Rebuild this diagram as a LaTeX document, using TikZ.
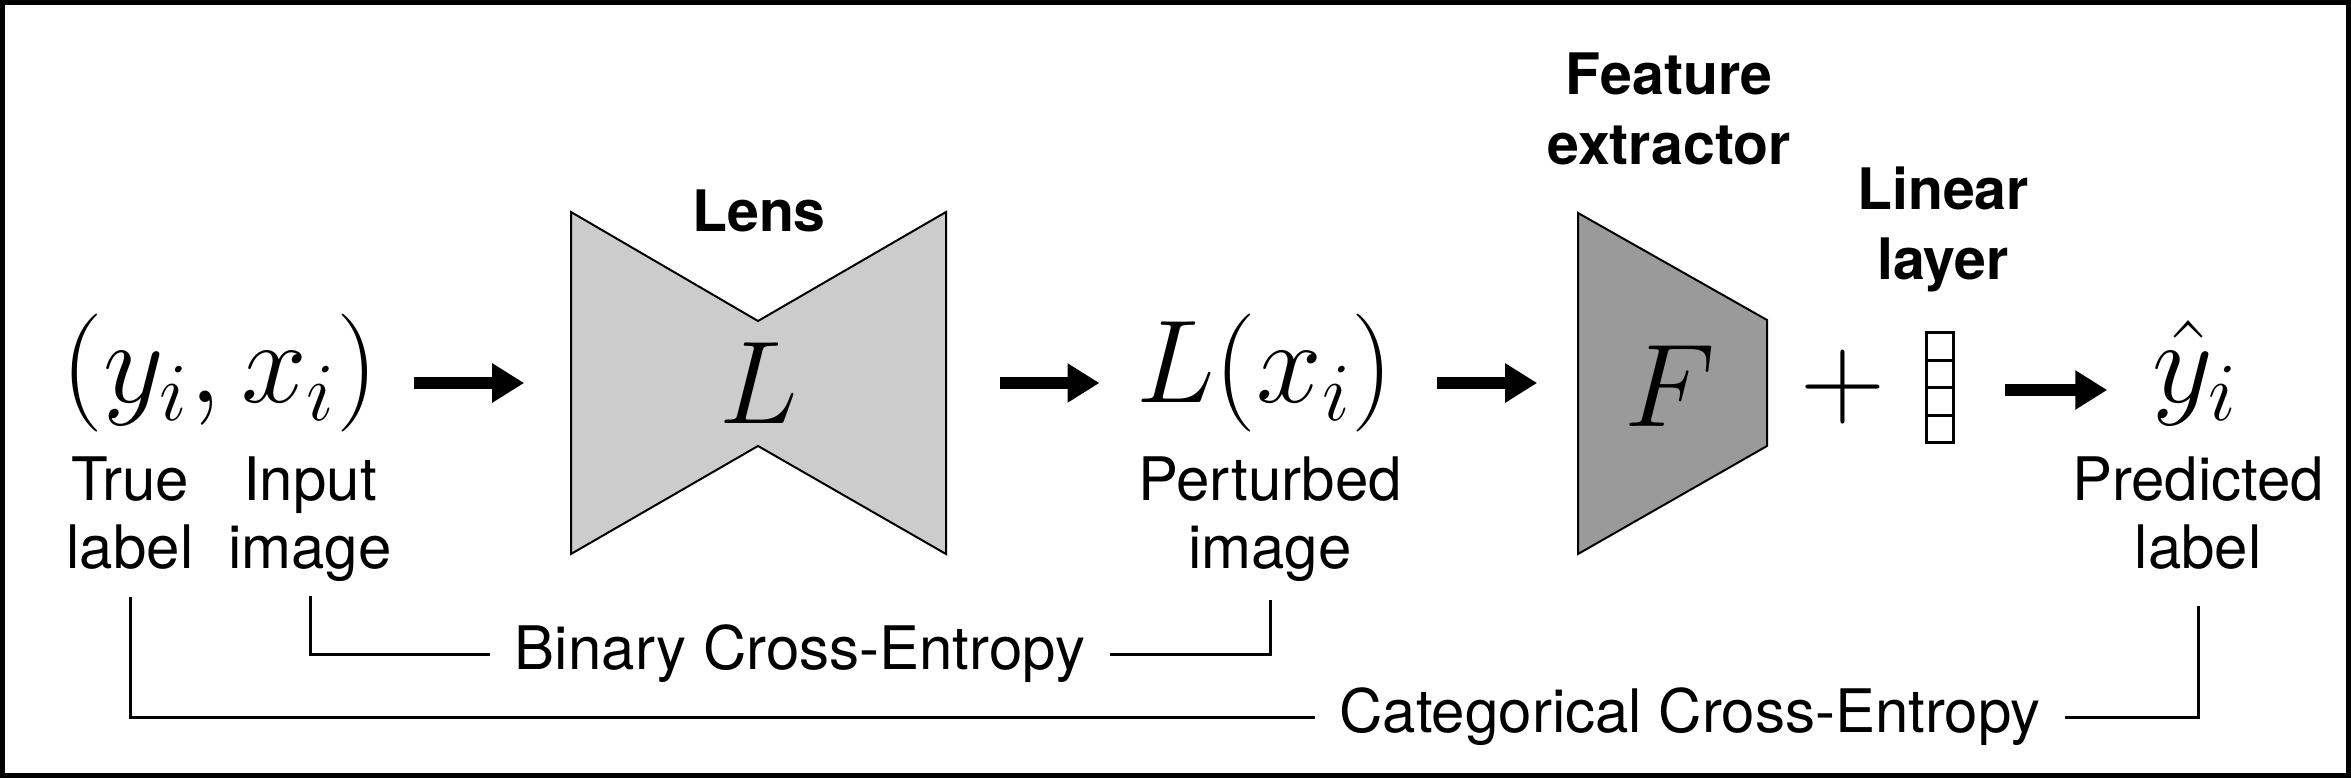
\RequirePackage{fix-cm}
\documentclass[tikz,border=0pt]{standalone}
\usepackage[no-math]{fontspec}
\setmainfont{TeX Gyre Heros}
\usetikzlibrary{arrows.meta,calc}
\definecolor{lensgray}{HTML}{CCCCCC}
\definecolor{featgray}{HTML}{9A9A9A}
\tikzset{
  lbl/.style={font=\fontsize{15}{17}\selectfont, align=center, inner sep=0pt},
  ttl/.style={font=\bfseries\fontsize{14.3}{17.5}\selectfont, align=center, inner sep=0pt},
  mth/.style={font=\fontsize{29.5}{30}\selectfont, inner sep=0pt},
  bigarrow/.style={line width=3.2pt, -{Triangle[length=8pt,width=9.3pt]}},
  conn/.style={line width=0.75pt},
  outline/.style={draw, line width=0.5pt},
  cell/.style={draw, line width=0.75pt},
  loss/.style={font=\fontsize{15}{17}\selectfont, inner ysep=0pt, inner xsep=6pt}
}
\begin{document}
\begin{tikzpicture}[x=0.25pt,y=-0.25pt]
\useasboundingbox (0,0) rectangle (2351,778);
\draw[line width=1.25pt] (2.5,2.5) rectangle (2348.5,775.5);

% input
\node[mth, anchor=base] (tup) at (220,403) {$(y_i,x_i)$};
\node[lbl, anchor=north] (truelbl) at (130,456) {True\\label};
\node[lbl, anchor=north] (inputlbl) at (310,456) {Input\\image};

% lens
\node[minimum width=93.75pt, minimum height=85.5pt, inner sep=0pt] (lens) at (758.5,383) {};
\draw[outline, fill=lensgray] (571,212) -- (758,321) -- (946,212) -- (946,554) -- (758,446) -- (571,554) -- cycle;
\node[mth] (lensL) at (lens.center) {$L$};
\node[ttl, anchor=north] (lenstitle) at (759,189) {Lens};

% perturbed
\node[mth, anchor=base] (lx) at (1265,403) {$L(x_i)$};
\node[lbl, anchor=north] (pertlbl) at (1270,456) {Perturbed\\image};

% feature extractor
\node[minimum width=47.25pt, minimum height=85.5pt, inner sep=0pt] (feat) at (1672.5,383) {};
\draw[outline, fill=featgray] (1578,213) -- (1767,320) -- (1767,446) -- (1578,554) -- cycle;
\node[mth] (featF) at (1670,386) {$F$};
\node[ttl, anchor=north] (feattitle) at (1669,52) {Feature\\extractor};

% plus and linear layer
\node[mth] (plus) at (1843,387) {$+$};
\node[minimum width=6.75pt, minimum height=27.5pt, inner sep=0pt] (vec) at (1939.5,388) {};
\draw[cell] (1926,333) rectangle (1953,443);
\draw[cell] (1926,360.5) -- (1953,360.5);
\draw[cell] (1926,388) -- (1953,388);
\draw[cell] (1926,415.5) -- (1953,415.5);
\node[ttl, anchor=north] (lintitle) at (1943,166) {Linear\\layer};

% prediction
\node[mth, anchor=base] (yhat) at (2195,403) {$\hat{y}_i$};
\node[lbl, anchor=north] (predlbl) at (2198,456) {Predicted\\label};

% arrows
\draw[bigarrow, shorten <=8.75pt, shorten >=11.5pt] (tup.east |- lens.west) -- (lens.west);
\draw[bigarrow, shorten <=0pt, shorten >=9pt] ([xshift=13.25pt]lens.east) -- (lx.west |- lens.east);
\draw[bigarrow, shorten <=10.5pt, shorten >=10pt] (lx.east |- feat.west) -- (feat.west);
\draw[bigarrow, shorten <=12.75pt, shorten >=11pt] ([yshift=-0.5pt]vec.east) -- ([yshift=-0.5pt]yhat.west |- vec.east);

% losses
\node[loss] (bce) at (800,654) {Binary Cross-Entropy};
\node[loss] (cce) at (1690,717) {Categorical Cross-Entropy};
\draw[conn] (bce.west) -| ([yshift=-3.5pt]inputlbl.south);
\draw[conn] (bce.east) -| ([yshift=-4.5pt]pertlbl.south);
\draw[conn] (cce.west) -| ([yshift=-6.75pt]truelbl.south);
\draw[conn] (cce.east) -| ([yshift=-9pt]predlbl.south);
\end{tikzpicture}
\end{document}
